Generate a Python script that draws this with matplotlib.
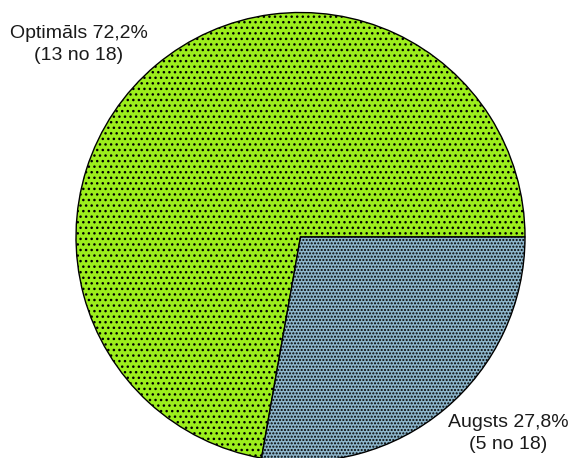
import matplotlib
matplotlib.use("Agg")
import matplotlib.pyplot as plt

labels = ["Optimāls", "Augsts"]
counts = [13, 5]
total = 18
colors = ["#9cee1c", "#8db6cc"]
hatches = ["...", "....."]

plt.rcParams["font.family"] = ["Liberation Sans", "DejaVu Sans"]
plt.rcParams["hatch.linewidth"] = 1.0

fig = plt.figure(figsize=(5.71, 4.58), dpi=100)
ax = fig.add_axes([0, 0, 1, 1])

# pixel coords, y up
wedges, _ = ax.pie(counts, colors=colors, startangle=0, counterclock=True,
                   center=(300.5, 458 - 237), radius=224.5, frame=True,
                   wedgeprops=dict(edgecolor="black", linewidth=1.0))
for w, h in zip(wedges, hatches):
    w.set_hatch(h)

ax.set_xlim(0, 571)
ax.set_ylim(0, 458)
ax.set_aspect("equal")
ax.axis("off")

label_pos = [(79, 458 - 44.5), (508, 458 - 433.5)]
for name, n, (x, y) in zip(labels, counts, label_pos):
    pct = f"{n / total * 100:.1f}".replace(".", ",")
    ax.text(x, y, f"{name} {pct}%\n({n} no {total})", ha="center", va="center",
            fontsize=14, color="#1a1a1a", linespacing=1.42)

fig.savefig("out.png", dpi=100)
